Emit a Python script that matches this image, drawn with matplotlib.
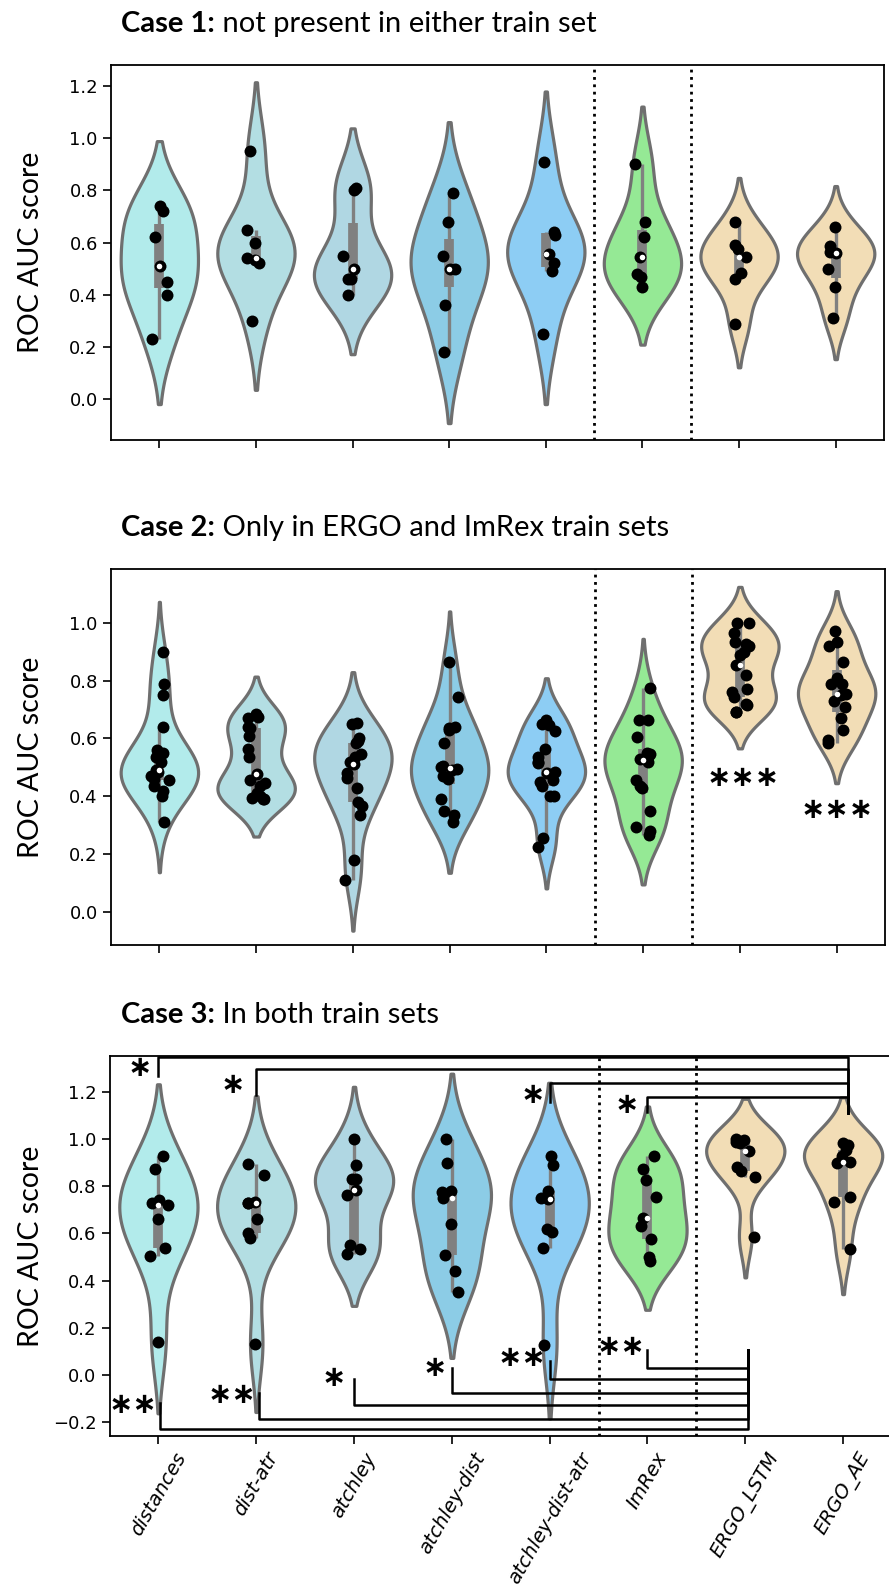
import numpy as np
import pandas as pd
import matplotlib
matplotlib.use('Agg')
import matplotlib.pyplot as plt
import seaborn as sns
from matplotlib import cbook

models = ['distances', 'dist-atr', 'atchley', 'atchley-dist', 'atchley-dist-atr',
          'ImRex', 'ERGO_LSTM', 'ERGO_AE']
colors = ['paleturquoise', 'powderblue', 'lightblue', 'skyblue', 'lightskyblue',
          'lightgreen', 'wheat', 'wheat']

# ROC AUC per epitope, one list per model
case1_scores = [
    [0.74, 0.72, 0.62, 0.51, 0.45, 0.40, 0.23],
    [0.95, 0.65, 0.60, 0.54, 0.535, 0.52, 0.30],
    [0.81, 0.80, 0.55, 0.50, 0.46, 0.46, 0.40],
    [0.79, 0.68, 0.55, 0.50, 0.50, 0.36, 0.18],
    [0.91, 0.64, 0.63, 0.555, 0.52, 0.49, 0.25],
    [0.90, 0.68, 0.62, 0.545, 0.48, 0.47, 0.43],
    [0.68, 0.59, 0.575, 0.545, 0.485, 0.46, 0.29],
    [0.66, 0.585, 0.565, 0.56, 0.50, 0.43, 0.31],
]
case2_scores = [
    [0.90, 0.79, 0.75, 0.64, 0.56, 0.55, 0.535, 0.52, 0.49, 0.485, 0.47, 0.46, 0.455,
     0.435, 0.42, 0.40, 0.31],
    [0.685, 0.675, 0.67, 0.64, 0.635, 0.61, 0.565, 0.535, 0.476, 0.455, 0.445, 0.435,
     0.41, 0.40, 0.395, 0.39, 0.39],
    [0.655, 0.65, 0.60, 0.59, 0.585, 0.545, 0.535, 0.52, 0.512, 0.48, 0.465, 0.43,
     0.38, 0.365, 0.335, 0.18, 0.11],
    [0.865, 0.745, 0.64, 0.635, 0.63, 0.585, 0.505, 0.50, 0.495, 0.49, 0.47, 0.46,
     0.39, 0.35, 0.335, 0.31],
    [0.665, 0.65, 0.645, 0.625, 0.565, 0.535, 0.52, 0.515, 0.485, 0.48, 0.455, 0.45,
     0.435, 0.40, 0.40, 0.255, 0.225],
    [0.775, 0.665, 0.665, 0.605, 0.55, 0.545, 0.535, 0.53, 0.52, 0.455, 0.435, 0.43,
     0.35, 0.295, 0.28, 0.265],
    [1.0, 1.0, 0.965, 0.935, 0.925, 0.92, 0.90, 0.89, 0.855, 0.82, 0.77, 0.76, 0.745,
     0.72, 0.715, 0.69, 0.69],
    [0.97, 0.935, 0.92, 0.865, 0.81, 0.79, 0.79, 0.755, 0.75, 0.73, 0.71, 0.67, 0.63,
     0.595, 0.585],
]
case3_scores = [
    [0.93, 0.875, 0.74, 0.73, 0.72, 0.66, 0.54, 0.505, 0.14],
    [0.895, 0.85, 0.735, 0.73, 0.728, 0.66, 0.60, 0.58, 0.13],
    [1.0, 0.89, 0.83, 0.83, 0.785, 0.765, 0.55, 0.535, 0.515],
    [1.0, 0.90, 0.78, 0.775, 0.75, 0.64, 0.51, 0.44, 0.35],
    [0.93, 0.89, 0.78, 0.75, 0.745, 0.62, 0.605, 0.54, 0.125],
    [0.93, 0.875, 0.825, 0.755, 0.665, 0.63, 0.575, 0.50, 0.485],
    [1.0, 0.995, 0.99, 0.985, 0.95, 0.88, 0.865, 0.84, 0.585],
    [0.985, 0.975, 0.955, 0.93, 0.905, 0.90, 0.755, 0.735, 0.535],
]

titles = [('Case 1:', ' not present in either train set'),
          ('Case 2:', ' Only in ERGO and ImRex train sets'),
          ('Case 3:', ' In both train sets')]

# significance marks: (label, x, y)
case2_stars = [('∗∗∗', 6.03, 0.464), ('∗∗∗', 7.01, 0.353)]
# brackets above: start model index, start y, bar y ; all end at ERGO_AE
case3_top = [(0, 1.268, 1.349), (1, 1.187, 1.298), (4, 1.157, 1.238), (5, 1.115, 1.179)]
case3_top_stars = [('∗', -0.19, 1.302), ('∗', 0.76, 1.23), ('∗', 3.83, 1.187), ('∗', 4.79, 1.145)]
# brackets below: all end at ERGO_LSTM
case3_bottom = [(0.02, -0.121, -0.230), (1.03, -0.078, -0.187), (2.0, -0.017, -0.128),
                (3.0, 0.031, -0.077), (4.0, 0.06, -0.017), (5.0, 0.106, 0.030)]
case3_bottom_stars = [('∗∗', -0.26, -0.128), ('∗∗', 0.75, -0.085), ('∗', 1.79, -0.013),
                      ('∗', 2.83, 0.03), ('∗∗', 3.72, 0.072), ('∗∗', 4.73, 0.119)]

np.random.seed(3)

W, H = 889, 1593
fig = plt.figure(figsize=(W / 100, H / 100), dpi=100)

# axes boxes in pixels: left, top, right, bottom
boxes = [(111, 65, 884, 440), (111, 569, 885, 945), (109.5, 1055.7, 892, 1436)]
ylims = [(-0.156, 1.28), (-0.114, 1.186), (-0.259, 1.354)]
yticks = [np.arange(0, 1.21, 0.2), np.arange(0, 1.01, 0.2), np.arange(-0.2, 1.21, 0.2)]
score_sets = [case1_scores, case2_scores, case3_scores]


def draw_panel(ax, scores):
    df = pd.DataFrame({'model': np.repeat(models, [len(s) for s in scores]),
                       'score': np.concatenate(scores)})
    sns.violinplot(data=df, x='model', y='score', hue='model', order=models,
                   hue_order=models, palette=colors, inner=None, linewidth=2.3,
                   linecolor='gray', saturation=0.9, legend=False, ax=ax)
    for i, s in enumerate(scores):
        st = cbook.boxplot_stats(np.array(s))[0]
        ax.plot([i, i], [st['whislo'], st['whishi']], color='gray', lw=2.4,
                solid_capstyle='butt', zorder=2)
        ax.plot([i, i], [st['q1'], st['q3']], color='gray', lw=7,
                solid_capstyle='butt', zorder=2)
        ax.scatter([i], [st['med']], s=16, color='white', zorder=4, linewidths=0)
    sns.stripplot(data=df, x='model', y='score', order=models, color='black',
                  size=8.6, jitter=True, ax=ax, zorder=3)


axes = []
for k in range(3):
    l, t, r, b = boxes[k]
    ax = fig.add_axes([l / W, 1 - b / H, (r - l) / W, (b - t) / H])
    draw_panel(ax, score_sets[k])
    ax.set_xlim(-0.5, 7.5)
    ax.set_ylim(*ylims[k])
    ax.set_yticks(yticks[k])
    ax.set_yticklabels(['{:.1f}'.format(v).replace('-', '\u2212') for v in yticks[k]])
    ax.axvline(4.5, color='black', ls=':', lw=2, zorder=1)
    ax.axvline(5.5, color='black', ls=':', lw=2, zorder=1)
    ax.set_xlabel('')
    ax.set_ylabel('ROC AUC score', family='Lato', fontsize=20.5)
    ax.yaxis.set_label_coords((44 - l) / (r - l), 0.5)
    ax.tick_params(length=5.5, width=1.2, labelsize=13, pad=4, color='black')
    for sp in ax.spines.values():
        sp.set_linewidth(1.3)
    if k < 2:
        ax.set_xticklabels([])
    else:
        ax.set_xticks(range(len(models)))
        ax.set_xticklabels(models, rotation=60, ha='center', fontsize=14,
                           fontstyle='italic')
    # panel title, bold prefix
    tb = fig.text(121 / W, 1 - (t - 33) / H, titles[k][0], family='Lato',
                  weight='bold', fontsize=21, va='baseline', ha='left')
    ax.annotate(titles[k][1], xy=(1, 1 - (t - 33) / H),
                xycoords=(tb, 'figure fraction'), family='Lato', fontsize=21,
                va='baseline', ha='left', annotation_clip=False)
    axes.append(ax)

ax2 = axes[1]
for lab, x, y in case2_stars:
    ax2.text(x, y, lab, ha='center', va='center', fontsize=21, weight='bold',
             family='DejaVu Sans')

ax3 = axes[2]
end_top = 7.05
for i0, y0, yb in case3_top:
    ax3.plot([i0, i0, end_top, end_top], [y0, yb, yb, 1.111], color='black', lw=1.8,
             clip_on=False, zorder=5)
end_bot = 6.03
for x0, y0, yb in case3_bottom:
    ax3.plot([x0, x0, end_bot, end_bot], [y0, yb, yb, 0.106], color='black', lw=1.8,
             clip_on=False, zorder=5)
for lab, x, y in case3_top_stars + case3_bottom_stars:
    ax3.text(x, y, lab, ha='center', va='center', fontsize=21, weight='bold',
             family='DejaVu Sans')

plt.savefig('out.png', dpi=100)
